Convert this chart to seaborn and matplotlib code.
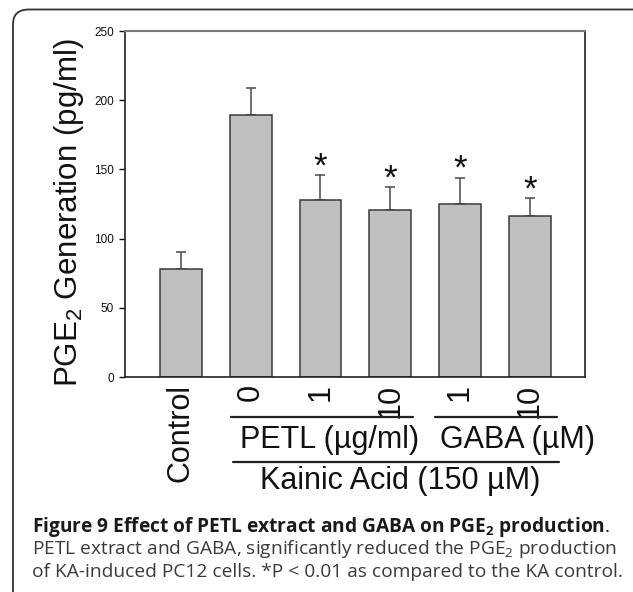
import matplotlib
matplotlib.use("Agg")
import matplotlib.pyplot as plt
from matplotlib.patches import FancyBboxPatch
from matplotlib.lines import Line2D
import seaborn as sns
import pandas as pd
import numpy as np

# ---- data ----
groups = ["Control", "PETL 0", "PETL 1", "PETL 10", "GABA 1", "GABA 10"]
tick_labels = ["Control", "0", "1", "10", "1", "10"]
means = [78, 189, 128, 121, 125, 116]
err_tops = [90, 209, 146, 137, 144, 129]
significant = [False, False, True, True, True, True]
y_ticks = [0, 50, 100, 150, 200, 250]
ylabel = r"PGE$_\mathregular{2}$ Generation (pg/ml)"
group_label_petl = "PETL (µg/ml)"
group_label_gaba = "GABA (µM)"
group_label_ka = "Kainic Acid (150 µM)"
caption_bold = r"Figure 9 Effect of PETL extract and GABA on PGE$_\mathregular{2}$ production"
caption_line2 = r"PETL extract and GABA, significantly reduced the PGE$_\mathregular{2}$ production"
caption_line3 = "of KA-induced PC12 cells. *P < 0.01 as compared to the KA control."

sns.set_theme(style="white")
plt.rcParams["font.family"] = ["Liberation Sans", "DejaVu Sans"]

W, H = 633, 592
fig = plt.figure(figsize=(W / 100, H / 100), dpi=100)

def fx(px):
    return px / W

def fy(py):
    return (H - py) / H

# frame
frame = FancyBboxPatch((fx(13), fy(700)), fx(700), fy(9.5) - fy(700),
                       boxstyle="round,pad=0,rounding_size=0.025",
                       transform=fig.transFigure, fill=False,
                       edgecolor="#333333", linewidth=1.3, zorder=0)
fig.patches.append(frame)

ax = fig.add_axes([fx(125), fy(377), fx(585) - fx(125), fy(31) - fy(377)])

df = pd.DataFrame({"group": groups, "value": means})
sns.barplot(data=df, x="group", y="value", order=groups, color="#c0c0c0",
            saturation=1, width=0.6, edgecolor="#3a3a3a", linewidth=1.1,
            errorbar=None, ax=ax, zorder=2)

xs = np.arange(len(groups))
yerr_up = np.array(err_tops) - np.array(means)
ax.errorbar(xs, means, yerr=[np.zeros(len(means)), yerr_up], fmt="none",
            ecolor="#4a4a4a", elinewidth=1.1, capsize=3.5, capthick=1.1, zorder=1)

for x, top, sig in zip(xs, err_tops, significant):
    if sig:
        ax.annotate("*", (x, top), xytext=(0, -1), textcoords="offset points",
                    ha="center", va="baseline", fontsize=25, color="#111111")

ax.set_xlim(-0.8, 5.79)
ax.set_ylim(0, 250)
ax.set_yticks(y_ticks)
ax.set_yticklabels([str(v) for v in y_ticks], fontsize=8.5, color="#111111")
ax.set_xticks(xs)
ax.set_xticklabels(tick_labels, rotation=90, fontsize=22, color="#111111",
                   va="top", ha="center")
ax.tick_params(axis="x", length=0, pad=5)
ax.tick_params(axis="y", length=4, width=1, direction="out", pad=4, left=True, colors="#111111")
ax.set_xlabel("")
ax.set_ylabel("")
for side in ["left", "bottom", "right"]:
    ax.spines[side].set_color("#222222")
    ax.spines[side].set_linewidth(1.2)
ax.spines["top"].set_color("#7a7a7a")
ax.spines["top"].set_linewidth(1.5)
ax.grid(False)

fig.text(fx(69), fy(213), ylabel, rotation=90, ha="center", va="center",
         fontsize=22.5, color="#111111")

# group lines and labels
for (x0, x1, y) in [(230.7, 413, 416.7), (435, 557, 416.7), (233, 559, 461.7)]:
    fig.add_artist(Line2D([fx(x0), fx(x1)], [fy(y), fy(y)], transform=fig.transFigure,
                          color="#222222", linewidth=1.6))
fig.text(fx(330), fy(448), group_label_petl, ha="center", va="baseline", fontsize=22, color="#111111")
fig.text(fx(517), fy(448), group_label_gaba, ha="center", va="baseline", fontsize=22, color="#111111")
fig.text(fx(400.5), fy(489), group_label_ka, ha="center", va="baseline", fontsize=22, color="#111111")

# caption
cap_font = ["Open Sans", "DejaVu Sans"]
cap_size = 13.8
t1 = fig.text(fx(31.5), fy(532), caption_bold, ha="left", va="baseline", fontsize=cap_size,
              fontweight="bold", family=cap_font, color="#1a1a1a")
fig.canvas.draw()
bb = t1.get_window_extent()
fig.text(bb.x1 / W, fy(532), ".", ha="left", va="baseline", fontsize=cap_size,
         family=cap_font, color="#1a1a1a")
fig.text(fx(31.5), fy(554.5), caption_line2, ha="left", va="baseline", fontsize=cap_size,
         family=cap_font, color="#3a3a3a")
fig.text(fx(31.5), fy(577), caption_line3, ha="left", va="baseline", fontsize=cap_size,
         family=cap_font, color="#3a3a3a")

fig.savefig("out.png", dpi=100)
